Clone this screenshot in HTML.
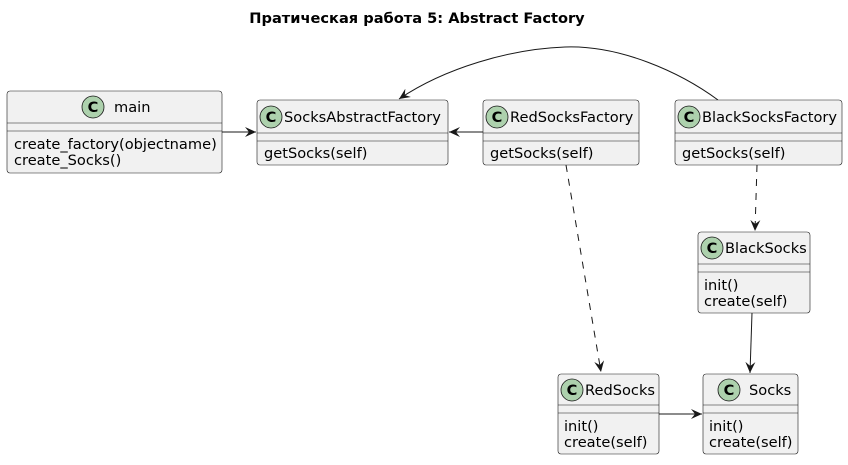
<!DOCTYPE html>
<html><head><meta charset="utf-8"><style>
html,body{margin:0;padding:0;background:#fff;}
svg text{font-family:"DejaVu Sans","Liberation Sans",sans-serif;font-size:14.6px;fill:#000;}
</style></head><body>
<svg width="848" height="460" viewBox="0 0 848 460" xmlns="http://www.w3.org/2000/svg">
<defs>
<marker id="a" viewBox="0 0 12 10" refX="11" refY="5" markerWidth="12" markerHeight="10" markerUnits="userSpaceOnUse" orient="auto">
<path d="M0,0 L11,5 L0,10 L4,5 Z" fill="#181818"/>
</marker>
</defs>
<text x="417" y="23" text-anchor="middle" style="font-weight:bold;font-size:14.6px">Пратическая работа 5: Abstract Factory</text>

<g stroke="#181818" stroke-width="1" fill="none">
<line x1="222" y1="132" x2="256" y2="132" marker-end="url(#a)"/>
<line x1="483" y1="132" x2="449" y2="132" marker-end="url(#a)"/>
<path d="M718,100 C680,72 620,45 565,47 C510,49 445,68 399,99" marker-end="url(#a)"/>
<line x1="566" y1="165" x2="601" y2="372" stroke-dasharray="7,7" marker-end="url(#a)"/>
<line x1="757" y1="165" x2="755" y2="231" stroke-dasharray="7,7" marker-end="url(#a)"/>
<line x1="752" y1="313" x2="750" y2="373" marker-end="url(#a)"/>
<line x1="659" y1="414" x2="702" y2="414" marker-end="url(#a)"/>
</g>

<g fill="#F1F1F1" stroke="#181818" stroke-width="0.6">
<rect x="7" y="91" width="215" height="82" rx="3"/>
<rect x="257" y="100" width="191" height="65" rx="3"/>
<rect x="483" y="100" width="156" height="65" rx="3"/>
<rect x="675" y="100" width="167" height="65" rx="3"/>
<rect x="698" y="232" width="112" height="81" rx="3"/>
<rect x="558" y="374" width="101" height="80" rx="3"/>
<rect x="703" y="374" width="95" height="80" rx="3"/>
</g>
<g stroke="#181818" stroke-width="0.6">
<line x1="7" y1="123" x2="222" y2="123"/><line x1="7" y1="131" x2="222" y2="131"/>
<line x1="257" y1="133" x2="448" y2="133"/><line x1="257" y1="141" x2="448" y2="141"/>
<line x1="483" y1="133" x2="639" y2="133"/><line x1="483" y1="141" x2="639" y2="141"/>
<line x1="675" y1="133" x2="842" y2="133"/><line x1="675" y1="141" x2="842" y2="141"/>
<line x1="698" y1="264" x2="810" y2="264"/><line x1="698" y1="272" x2="810" y2="272"/>
<line x1="558" y1="405" x2="659" y2="405"/><line x1="558" y1="413" x2="659" y2="413"/>
<line x1="703" y1="405" x2="798" y2="405"/><line x1="703" y1="413" x2="798" y2="413"/>
</g>
<g fill="#ADD1AD" stroke="#181818" stroke-width="0.8">
<circle cx="93" cy="107" r="11"/>
<circle cx="271" cy="117" r="11"/>
<circle cx="497" cy="117" r="11"/>
<circle cx="689" cy="117" r="11"/>
<circle cx="712" cy="248" r="11"/>
<circle cx="572" cy="390" r="11"/>
<circle cx="729" cy="390" r="11"/>
</g>
<g style="font-weight:bold;font-size:14px" text-anchor="middle">
<text x="93" y="112">C</text>
<text x="271" y="122">C</text>
<text x="497" y="122">C</text>
<text x="689" y="122">C</text>
<text x="712" y="253">C</text>
<text x="572" y="395">C</text>
<text x="729" y="395">C</text>
</g>
<text x="114" y="112">main</text>
<text x="14" y="149">create_factory(objectname)</text>
<text x="14" y="165">create_Socks()</text>
<text x="284" y="122">SocksAbstractFactory</text>
<text x="264" y="158">getSocks(self)</text>
<text x="510" y="122">RedSocksFactory</text>
<text x="490" y="158">getSocks(self)</text>
<text x="702" y="122">BlackSocksFactory</text>
<text x="682" y="158">getSocks(self)</text>
<text x="725" y="253">BlackSocks</text>
<text x="704" y="290">init()</text>
<text x="704" y="306">create(self)</text>
<text x="585" y="395">RedSocks</text>
<text x="564" y="431">init()</text>
<text x="564" y="447">create(self)</text>
<text x="749" y="395">Socks</text>
<text x="709" y="431">init()</text>
<text x="709" y="447">create(self)</text>
</svg>
</body></html>
